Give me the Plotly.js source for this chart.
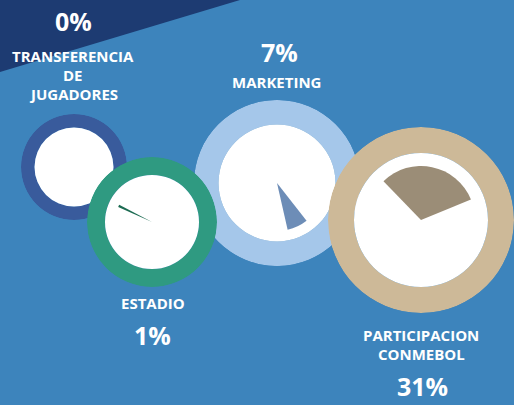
<!DOCTYPE html>
<html><head><meta charset="utf-8">
<script src="https://cdn.plot.ly/plotly-3.0.1.min.js"></script>
<style>html,body{margin:0;padding:0;background:#3d84bc;overflow:hidden}</style>
</head><body><div id="chart" style="width:514px;height:405px"></div>
<script>
// ---- data ----
const categories = ["TRANSFERENCIA\nDE\nJUGADORES", "ESTADIO", "MARKETING", "PARTICIPACION\nCONMEBOL"];
const shares = [0, 1, 7, 31];            // percent
const startAngles = [0, 294, 142, 316];  // wedge start, degrees clockwise from top

// ---- styling / layout ----
const W = 514, H = 405;
const circles = [
  {cx:74,  cy:167, R:53, r:39.5, len:0,  ring:'#395b9c', wedge:'#2c4f8f', pctY:21,  labY:56,  pctFirst:true,  labX:73,  pctX:73},
  {cx:152, cy:222, R:65, r:47,   len:37, ring:'#2f9a81', wedge:'#1c6b52', pctY:335, labY:303, pctFirst:false, labX:153, pctX:152},
  {cx:277, cy:183, R:83, r:58.5, len:48, ring:'#a5c7ea', wedge:'#6d8db7', pctY:52,  labY:82,  pctFirst:true,  labX:276, pctX:279},
  {cx:421, cy:220, R:93, r:67,   len:54, ring:'#cdb998', wedge:'#9b8d77', pctY:386, labY:335, pctFirst:false, labX:421, pctX:422}
];
// drawing order (later = on top)
const order = [0, 2, 1, 3];

const traces = [];
const layout = {
  width: W, height: H,
  margin: {l:0, r:0, t:0, b:0},
  paper_bgcolor: '#3d84bc',
  plot_bgcolor: 'rgba(0,0,0,0)',
  showlegend: false,
  annotations: [],
  shapes: [{
    type: 'path', xref: 'paper', yref: 'paper', layer: 'below',
    path: 'M 0 1 L ' + (240/W) + ' 1 L 0 ' + (1 - 72/H) + ' Z',
    fillcolor: '#1d3b72', line: {width: 0}
  }]
};

order.forEach((ci, k) => {
  const c = circles[ci];
  const pid = k === 0 ? 'polar' : 'polar' + (k + 1);
  layout[pid] = {
    domain: {x: [(c.cx - c.R) / W, (c.cx + c.R) / W], y: [1 - (c.cy + c.R) / H, 1 - (c.cy - c.R) / H]},
    bgcolor: 'rgba(0,0,0,0)',
    barmode: 'overlay',
    radialaxis: {range: [0, c.R], visible: false, showgrid: false, showline: false, showticklabels: false, ticks: ''},
    angularaxis: {rotation: 90, direction: 'clockwise', visible: false, showgrid: false, showline: false, showticklabels: false, ticks: ''}
  };
  const common = {type: 'barpolar', subplot: pid, hoverinfo: 'skip', showlegend: false};
  traces.push(Object.assign({}, common, {r: [c.R - c.r], base: [c.r], theta: [180], width: [360], marker: {color: c.ring, line: {width: 0}}}));
  traces.push(Object.assign({}, common, {r: [c.r], theta: [180], width: [360], marker: {color: '#ffffff', line: {width: 0}}}));
  if (shares[ci] > 0) {
    const w = shares[ci] * 3.6;
    traces.push(Object.assign({}, common, {r: [c.len], theta: [startAngles[ci] + w / 2], width: [w], marker: {color: c.wedge, line: {width: 0}}}));
  }
});

const font = (s) => ({family: 'Open Sans, sans-serif', size: s, color: '#ffffff', weight: 700});
circles.forEach((c, i) => {
  layout.annotations.push({xref: 'paper', yref: 'paper', x: c.pctX / W, y: 1 - c.pctY / H, xanchor: 'center', yanchor: 'middle',
    text: shares[i] + '%', showarrow: false, font: font(25)});
  categories[i].split('\n').forEach((line, j) => {
    layout.annotations.push({xref: 'paper', yref: 'paper', x: c.labX / W, y: 1 - (c.labY + j * 19) / H, xanchor: 'center', yanchor: 'middle',
      text: line, showarrow: false, font: font(15)});
  });
});

Plotly.newPlot('chart', traces, layout, {displayModeBar: false, staticPlot: true});
</script></body></html>
